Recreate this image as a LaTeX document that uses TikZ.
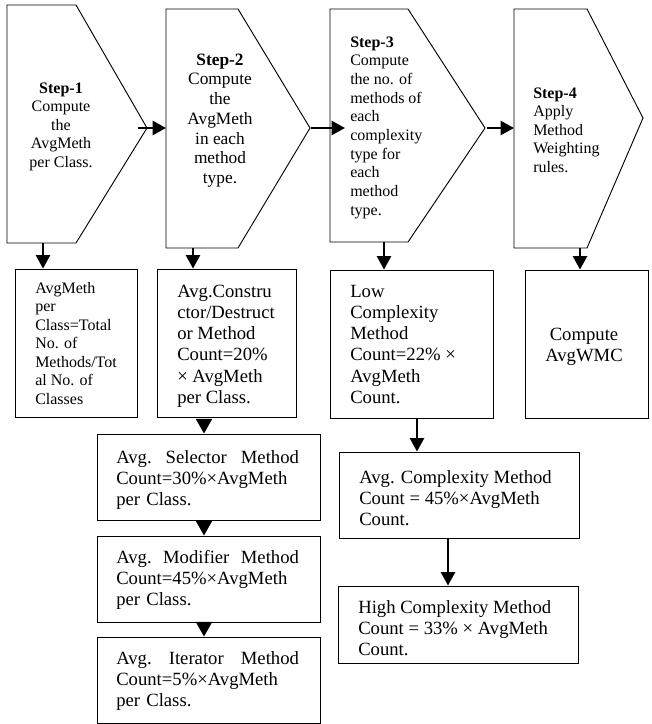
\documentclass[tikz,border=0pt]{standalone}
\usepackage{fontspec}
\setmainfont{Liberation Serif}
\usetikzlibrary{arrows.meta,fit}
\newcommand\myfirst{\rule{0pt}{0.72em}}
\tikzset{
  chev/.style={draw, line width=0.7pt},
  box/.style={draw, line width=0.7pt, inner sep=0pt},
  twelve/.style={inner sep=0pt, font=\fontsize{12pt}{13.9pt}\selectfont},
  thirteen/.style={inner sep=0pt, font=\fontsize{13pt}{14.8pt}\selectfont},
  fourteen/.style={inner sep=0pt, font=\fontsize{14pt}{15.9pt}\selectfont},
  tl/.style={anchor=north west, align=left},
  tc/.style={anchor=north, align=center},
  arr/.style={line width=1.6pt, -{Triangle[length=10pt,width=10.5pt]}},
  tri/.style={line width=1.6pt, -{Triangle[length=11pt,width=12pt]}},
}
\begin{document}
\begin{tikzpicture}[x=0.75pt,y=-0.75pt]
\clip (0,0) rectangle (652,724);
\fill[white] (0,0) rectangle (652,724);

% chevrons
\draw[chev] (7,5) -- (76,5) -- (147,128) -- (76,243) -- (7,243) -- cycle;
\draw[chev] (166,9) -- (238,9) -- (310,128) -- (238,248) -- (166,248) -- cycle;
\draw[chev] (330,9) -- (408,9) -- (485,128) -- (408,242) -- (330,242) -- cycle;
\draw[chev] (514,9) -- (587,9) -- (643,118) -- (587,248) -- (514,248) -- cycle;

\coordinate (h12) at (138,128);
\coordinate (ch2w) at (166,128);
\coordinate (ch2tip) at (311,128);
\coordinate (h23) at (345,128);
\coordinate (ch3tip) at (487,128);
\coordinate (ch4w) at (514,128);
\coordinate (c1bot) at (43,243);
\coordinate (c2bot) at (193,248);
\coordinate (c3bot) at (384,242);
\coordinate (c4bot) at (580,248);
\coordinate (xCE) at (417,0);
\coordinate (xEF) at (448,0);
\coordinate (xG) at (204,0);

% chevron texts
\node[twelve,tc] (s1) at (61,81.5) {\myfirst\textbf{Step-1}\\Compute\\the\\AvgMeth\\per Class.};
\node[thirteen,tc] (s2) at (220,52.5) {\myfirst\textbf{Step-2}\\Compute\\the\\AvgMeth\\in each\\method\\type.};
\node[twelve,tl,font=\fontsize{12pt}{14pt}\selectfont] (s3) at (350,35.5) {\myfirst\textbf{Step-3}\\Compute\\the no. of\\methods of\\each\\complexity\\type for\\each\\method\\type.};
\node[twelve,tl] (s4) at (533,86.5) {\myfirst\textbf{Step-4}\\Apply\\Method\\Weighting\\rules.};

% boxes
\node[box, fit={(15,269) (137,417)}] (bA) {};
\node[box, fit={(157,269) (296,417)}] (bB) {};
\node[box, fit={(330,270) (493,418)}] (bC) {};
\node[box, fit={(525,270) (648,418)}] (bD) {};
\node[box, fit={(339,452) (579,538)}] (bE) {};
\node[box, fit={(338,586) (578,663)}] (bF) {};
\node[box, fit={(97,434) (320,520)}] (bG) {};
\node[box, fit={(97,536) (320,622)}] (bH) {};
\node[box, fit={(97,637) (320,723)}] (bI) {};

% box texts
\node[twelve,tl] (tA) at (35,281.5) {\myfirst AvgMeth\\per\\Class=Total\\No. of\\Methods/Tot\\al No. of\\Classes};
\node[fourteen,tl] (tB) at (177,283.6) {\myfirst Avg.Constru\\ctor/Destruct\\or Method\\Count=20\%\\× AvgMeth\\per Class.};
\node[fourteen,tl] (tC) at (350,283.6) {\myfirst Low\\Complexity\\Method\\Count=22\% ×\\AvgMeth\\Count.};
\node[fourteen,tc] (tD) at (584,326.6) {\myfirst Compute\\AvgWMC};
\node[fourteen,tl] (tE) at (359,469.6) {\myfirst Avg. Complexity Method\\Count = 45\%×AvgMeth\\Count.};
\node[fourteen,tl] (tF) at (358,599.6) {\myfirst High Complexity Method\\Count = 33\% × AvgMeth\\Count.};
\node[fourteen,tl,text width=137pt] (tG) at (116,449.6) {\myfirst Avg.\hfill Selector\hfill Method\\Count=30\%×AvgMeth\\per Class.};
\node[fourteen,tl,text width=137pt] (tH) at (116,549.6) {\myfirst Avg.\hfill Modifier\hfill Method\\Count=45\%×AvgMeth\\per Class.};
\node[fourteen,tl,text width=137pt] (tI) at (116,650.6) {\myfirst Avg.\hfill Iterator\hfill Method\\Count=5\%×AvgMeth\\per Class.};

% connectors
\draw[arr] (h12) -- (ch2w);
\draw[arr] (ch2tip) -- (h23);
\draw[arr] (ch3tip) -- (ch4w);
\draw[arr] (c1bot) -- (c1bot |- bA.north);
\draw[arr] (c2bot) -- (c2bot |- bB.north);
\draw[arr] (c3bot) -- (c3bot |- bC.north);
\draw[arr] (c4bot) -- (c4bot |- bD.north);
\draw[arr] (xCE |- bC.south) -- (xCE |- bE.north);
\draw[arr] (xEF |- bE.south) -- (xEF |- bF.north);
\draw[tri, shorten <=4pt] (xG |- bB.south) -- (xG |- bG.north);
\draw[tri] (xG |- bG.south) -- (xG |- bH.north);
\draw[tri] (xG |- bH.south) -- (xG |- bI.north);
\end{tikzpicture}
\end{document}
